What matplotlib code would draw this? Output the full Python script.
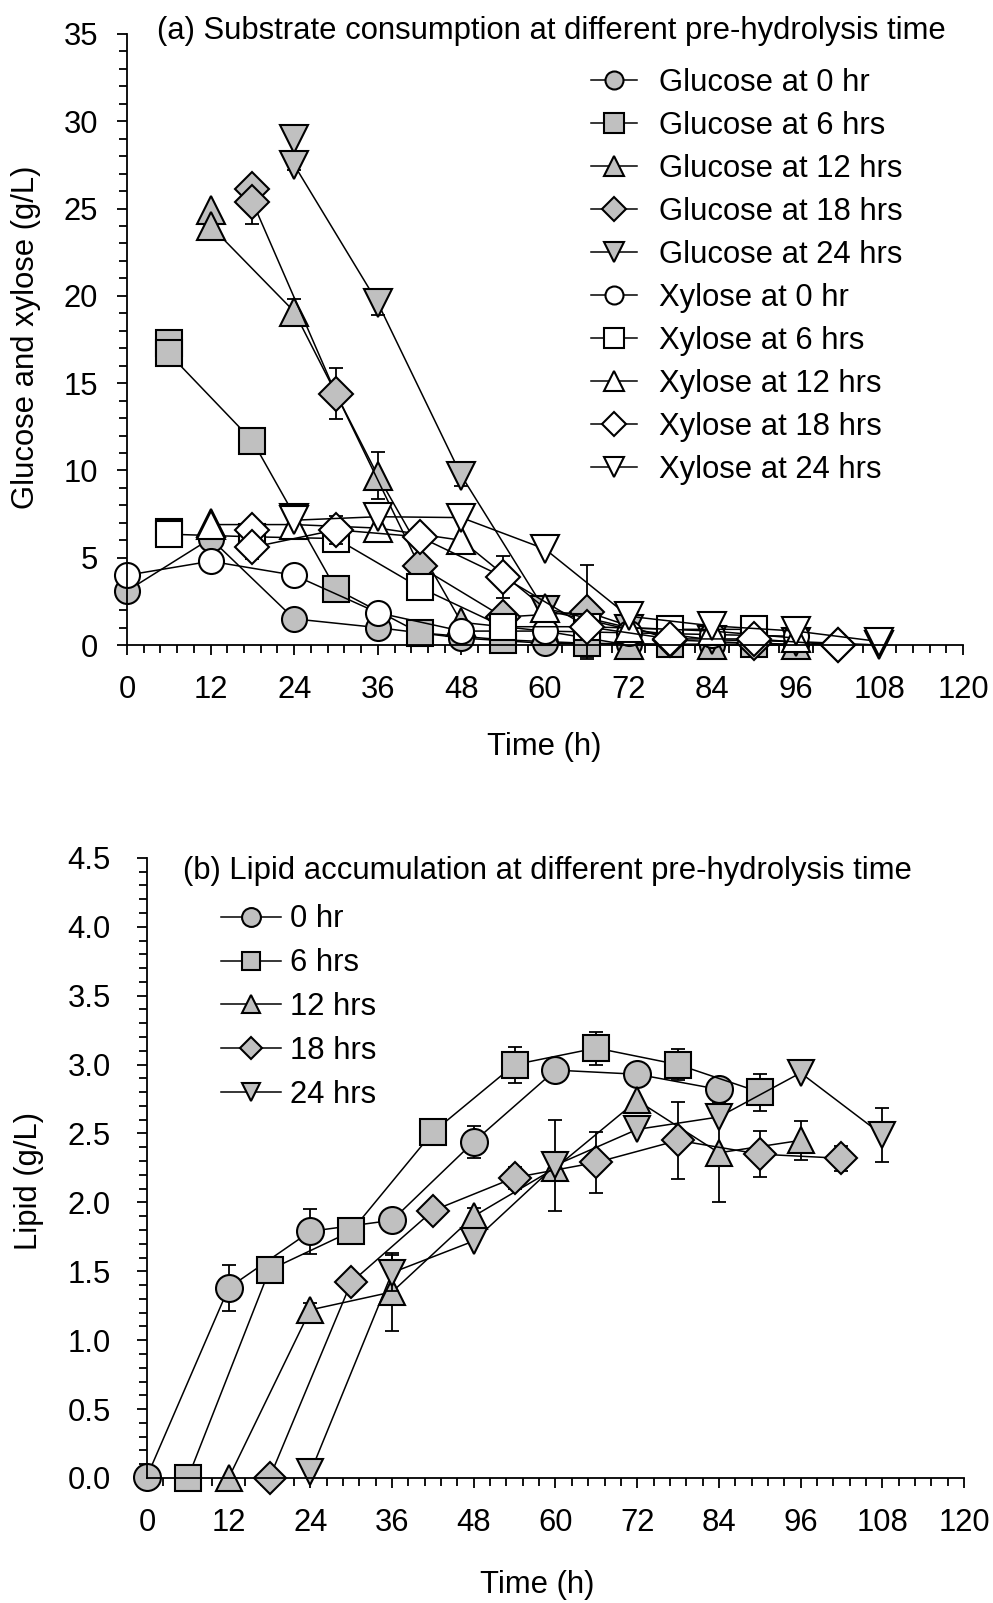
import numpy as np
import matplotlib
matplotlib.use("Agg")
import matplotlib.pyplot as plt
from matplotlib.ticker import MultipleLocator

plt.rcParams['font.family'] = ['Liberation Sans', 'DejaVu Sans']
plt.rcParams['font.size'] = 22.3

# ---- (a) substrate consumption, g/L ----
t_g0 = [0, 12, 24, 36, 48, 60, 72, 84, 96]
glc_0 = [3.1, 6.1, 1.5, 1.0, 0.4, 0.1, 0.05, 0.0, 0.0]
xyl_0 = [4.0, 4.8, 4.0, 1.85, 0.8, 0.8, 0.7, 0.6, 0.5]

t_g6 = [6, 6, 18, 30, 42, 54, 66, 78, 90]
glc_6 = [17.3, 16.7, 11.7, 3.2, 0.7, 0.3, 0.1, 0.05, 0.05]
glc_6_err = [0, 0, 0, 0, 0, 0, 0.8, 0, 0]
xyl_6 = [6.45, 6.35, 6.2, 6.1, 3.3, 1.05, 1.05, 0.9, 0.9]

t_g12 = [12, 12, 24, 36, 48, 60, 72, 84, 96]
glc_12 = [24.9, 24.0, 19.1, 9.7, 1.3, 0.8, 0.0, 0.0, 0.0]
glc_12_err = [0, 0, 0.7, 1.35, 0, 0, 0, 0, 0]
xyl_12 = [7.0, 6.9, 6.9, 6.7, 6.0, 2.1, 1.0, 0.8, 0.4]

t_g18 = [18, 18, 30, 42, 54, 66, 78, 90, 102]
glc_18 = [26.1, 25.4, 14.4, 4.5, 1.6, 1.9, 0.3, 0.1, 0.0]
glc_18_err = [0, 1.3, 1.45, 0, 0, 2.7, 0, 0, 0]
xyl_18 = [6.6, 5.6, 6.6, 6.2, 3.9, 1.05, 0.35, 0.35, 0.0]
xyl_18_err = [0, 0.7, 0.8, 0, 1.2, 0, 0, 0, 0]

t_g24 = [24, 24, 36, 48, 60, 72, 84, 96, 108]
glc_24 = [29.0, 27.5, 19.6, 9.7, 2.0, 0.9, 0.3, 0.2, 0.0]
glc_24_err = [0, 0.3, 0.7, 0.6, 0, 0, 0, 0, 0]
xyl_24 = [7.3, 7.15, 7.35, 7.3, 5.5, 1.65, 1.1, 0.8, 0.2]

# ---- (b) lipid, g/L ----
t_l0 = [0, 12, 24, 36, 48, 60, 72, 84]
lip_0 = [0.01, 1.38, 1.79, 1.87, 2.44, 2.96, 2.93, 2.82]
lip_0_err = [0, 0.165, 0.165, 0, 0.115, 0, 0, 0]
t_l6 = [6, 18, 30, 42, 54, 66, 78, 90]
lip_6 = [0.0, 1.51, 1.79, 2.51, 3.00, 3.12, 3.00, 2.80]
lip_6_err = [0, 0, 0, 0, 0.13, 0.12, 0.11, 0.135]
t_l12 = [12, 24, 36, 48, 60, 72, 84, 96]
lip_12 = [0.0, 1.22, 1.35, 1.90, 2.25, 2.74, 2.36, 2.45]
lip_12_err = [0, 0.05, 0.28, 0.06, 0, 0, 0.36, 0.14]
t_l18 = [18, 30, 42, 54, 66, 78, 90, 102]
lip_18 = [0.0, 1.42, 1.94, 2.18, 2.29, 2.45, 2.35, 2.32]
lip_18_err = [0, 0, 0, 0.08, 0.22, 0.28, 0.165, 0.09]
t_l24 = [24, 36, 48, 60, 72, 84, 96, 108]
lip_24 = [0.04, 1.49, 1.72, 2.27, 2.53, 2.62, 2.94, 2.49]
lip_24_err = [0, 0.13, 0, 0.33, 0, 0, 0, 0.196]

gray = '#C0C0C0'
mk = ['o', 's', '^', 'D', 'v']
ms_a = [18, 19.4, 20, 17, 20]
ms_b = [19.4, 19.4, 19.4, 16, 19.4]


def style_axis(ax, ymax, ymaj, ymin_step, ypad):
    ax.set_xlim(0, 120)
    ax.set_ylim(0, ymax)
    ax.spines['top'].set_visible(False)
    ax.spines['right'].set_visible(False)
    for s in ['left', 'bottom']:
        ax.spines[s].set_linewidth(1.3)
    ax.xaxis.set_major_locator(MultipleLocator(12))
    ax.xaxis.set_minor_locator(MultipleLocator(2.4))
    ax.yaxis.set_major_locator(MultipleLocator(ymaj))
    ax.yaxis.set_minor_locator(MultipleLocator(ymin_step))
    ax.tick_params(which='major', direction='out', length=7.2, width=1.3)
    ax.tick_params(which='minor', direction='out', length=6, width=1.3)
    ax.tick_params(axis='x', which='major', pad=14.5, labelsize=22.3)
    ax.tick_params(axis='y', which='major', pad=ypad, labelsize=22.3)


fig = plt.figure(figsize=(9.93, 16.03), dpi=100)

# ---------------- panel (a) ----------------
ax1 = fig.add_axes([0.1279, 0.5976, 0.8419, 0.3812])
style_axis(ax1, 35, 5, 1, 13.5)

glc = [(t_g0, glc_0, None), (t_g6, glc_6, glc_6_err), (t_g12, glc_12, glc_12_err),
       (t_g18, glc_18, glc_18_err), (t_g24, glc_24, glc_24_err)]
xyl = [(t_g0, xyl_0, None), (t_g6, xyl_6, None), (t_g12, xyl_12, None),
       (t_g18, xyl_18, xyl_18_err), (t_g24, xyl_24, None)]
glc_lab = ['Glucose at 0 hr', 'Glucose at 6 hrs', 'Glucose at 12 hrs',
           'Glucose at 18 hrs', 'Glucose at 24 hrs']
xyl_lab = ['Xylose at 0 hr', 'Xylose at 6 hrs', 'Xylose at 12 hrs',
           'Xylose at 18 hrs', 'Xylose at 24 hrs']

for fill, series, labels in [(gray, glc, glc_lab), ('white', xyl, xyl_lab)]:
    for i, (t, y, e) in enumerate(series):
        if e is not None:
            ax1.errorbar(t, y, yerr=e, fmt='none', ecolor='black', elinewidth=1.3,
                         capsize=4.7, capthick=1.3, clip_on=False)
        ax1.plot(t, y, '-', color='black', lw=1.1, marker=mk[i], ms=ms_a[i],
                 mfc=fill, mec='black', mew=1.5, label=labels[i], clip_on=False)

ax1.text(0.0355, 0.992, '(a) Substrate consumption at different pre-hydrolysis time',
         transform=ax1.transAxes, va='baseline', ha='left', fontsize=22.3)
ax1.legend(loc='upper left', bbox_to_anchor=(0.555, 0.945), frameon=False,
           fontsize=22.3, handlelength=1.47, handletextpad=0.72, labelspacing=0.42,
           borderpad=0, borderaxespad=0, markerscale=0.72)
ax1.set_xlabel('Time (h)', fontsize=22.3, va='center')
ax1.xaxis.set_label_coords(0.499, -0.167)
ax1.set_ylabel('Glucose and xylose (g/L)', fontsize=22.3, va='center')
ax1.yaxis.set_label_coords(-0.1208, 0.504)

# ---------------- panel (b) ----------------
ax2 = fig.add_axes([0.1480, 0.0780, 0.8228, 0.3868])
style_axis(ax2, 4.5, 0.5, 0.1, 19)
ax2.yaxis.set_major_formatter(matplotlib.ticker.FormatStrFormatter('%.1f'))

lip = [(t_l0, lip_0, lip_0_err), (t_l6, lip_6, lip_6_err), (t_l12, lip_12, lip_12_err),
       (t_l18, lip_18, lip_18_err), (t_l24, lip_24, lip_24_err)]
lip_lab = ['0 hr', '6 hrs', '12 hrs', '18 hrs', '24 hrs']

for i, (t, y, e) in enumerate(lip):
    ax2.errorbar(t, y, yerr=e, fmt='none', ecolor='black', elinewidth=1.3,
                 capsize=4.7, capthick=1.3, clip_on=False)
    ax2.plot(t, y, '-', color='black', lw=1.1, marker=mk[i], ms=ms_b[i],
             mfc=gray, mec='black', mew=1.5, label=lip_lab[i], clip_on=False)

ax2.text(0.0437, 0.966, '(b) Lipid accumulation at different pre-hydrolysis time',
         transform=ax2.transAxes, va='baseline', ha='left', fontsize=22.3)
ax2.legend(loc='upper left', bbox_to_anchor=(0.0906, 0.925), frameon=False,
           fontsize=22.3, handlelength=1.93, handletextpad=0.3, labelspacing=0.45,
           borderpad=0, borderaxespad=0, markerscale=0.7)
ax2.set_xlabel('Time (h)', fontsize=22.3, va='center')
ax2.xaxis.set_label_coords(0.477, -0.173)
ax2.set_ylabel('Lipid (g/L)', fontsize=22.3, va='center')
ax2.yaxis.set_label_coords(-0.1444, 0.479)

fig.savefig('out.png', dpi=100)
